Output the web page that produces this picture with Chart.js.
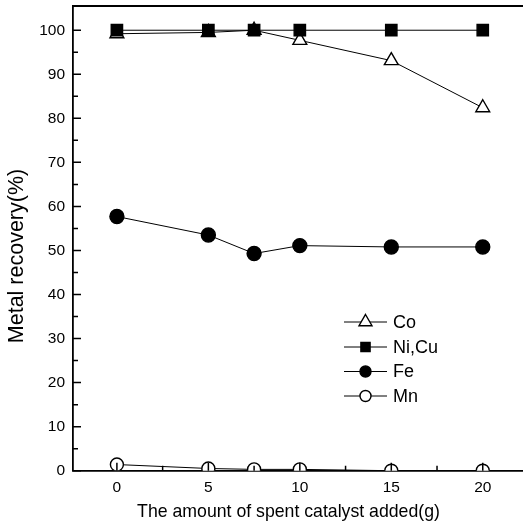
<!DOCTYPE html>
<html>
<head>
<meta charset="utf-8">
<script src="https://cdn.jsdelivr.net/npm/chart.js@4/dist/chart.umd.min.js"></script>
<style>
html,body{margin:0;padding:0;background:#fff;}
#wrap{width:523px;height:531px;position:relative;}
</style>
</head>
<body>
<div id="wrap"><canvas id="c" width="523" height="531"></canvas></div>
<script>
const amounts = [0, 5, 7.5, 10, 15, 20];
const coValues = [99.2, 99.5, 100, 97.7, 93.1, 82.4];
const niCuValues = [100, 100, 100, 100, 100, 100];
const feValues = [57.7, 53.5, 49.3, 51.1, 50.8, 50.8];
const mnValues = [1.4, 0.5, 0.3, 0.3, 0, 0];
const xMajorTicks = [0, 5, 10, 15, 20];
const xMinorTicks = [2.5, 7.5, 12.5, 17.5];
const yMajorTicks = [0, 10, 20, 30, 40, 50, 60, 70, 80, 90, 100];
const yMinorTicks = [5, 15, 25, 35, 45, 55, 65, 75, 85, 95];
const seriesNames = ['Co', 'Ni,Cu', 'Fe', 'Mn'];
const xTitle = 'The amount of spent catalyst added(g)';
const yTitle = 'Metal recovery(%)';

const FONT = '"Liberation Sans", Arial, Helvetica, sans-serif';

function pts(vals){ return amounts.map((x,i)=>({x:x,y:vals[i]})); }

const datasets = [
  {label: seriesNames[0], data: pts(coValues), pointStyle:'triangle', pointRadius:8, backgroundColor:'#fff', order:1, legendRadius:7.5},
  {label: seriesNames[1], data: pts(niCuValues), pointStyle:'rect', pointRadius:8, backgroundColor:'#000', order:0, legendRadius:6.5},
  {label: seriesNames[2], data: pts(feValues), pointStyle:'circle', pointRadius:7, backgroundColor:'#000', order:2, legendRadius:5.5},
  {label: seriesNames[3], data: pts(mnValues), pointStyle:'circle', pointRadius:6.5, backgroundColor:'#fff', order:3, legendRadius:5.5, clip:{left:false, top:false, right:false, bottom:0}}
].map(d=>Object.assign({borderWidth:1, borderColor:'#000', pointBorderWidth:1.4, pointBackgroundColor:d.backgroundColor, pointBorderColor:'#000', tension:0, fill:false}, d));

const frame = {
  id:'frame',
  afterDraw(chart){
    const ctx = chart.ctx, a = chart.chartArea;
    const xs = chart.scales.x, ys = chart.scales.y;
    ctx.save();
    ctx.strokeStyle = '#000';
    ctx.lineWidth = 1.8;
    ctx.beginPath();
    ctx.moveTo(a.left, a.top); ctx.lineTo(a.right, a.top);
    ctx.stroke();
    ctx.lineWidth = 1.5;
    ctx.beginPath();
    yMajorTicks.forEach(v=>{ const p = ys.getPixelForValue(v); ctx.moveTo(a.left, p); ctx.lineTo(a.left+8, p); });
    yMinorTicks.forEach(v=>{ const p = ys.getPixelForValue(v); ctx.moveTo(a.left, p); ctx.lineTo(a.left+5, p); });
    xMajorTicks.forEach(v=>{ const p = xs.getPixelForValue(v); ctx.moveTo(p, a.bottom); ctx.lineTo(p, a.bottom-8); });
    xMinorTicks.forEach(v=>{ const p = xs.getPixelForValue(v); ctx.moveTo(p, a.bottom); ctx.lineTo(p, a.bottom-5); });
    ctx.stroke();

    ctx.fillStyle = '#000';
    // y axis title
    ctx.save();
    ctx.translate(23, 256);
    ctx.rotate(-Math.PI/2);
    ctx.font = '21.5px ' + FONT;
    ctx.textAlign = 'center';
    ctx.textBaseline = 'alphabetic';
    ctx.fillText(yTitle, 0, 0);
    ctx.restore();

    // x axis title
    ctx.font = '17.7px ' + FONT;
    ctx.textAlign = 'center';
    ctx.textBaseline = 'alphabetic';
    ctx.fillText(xTitle, 288.5, 517);

    // legend
    const lx0 = 344, lx1 = 387, tx = 393;
    const rows = [322, 347, 371.5, 396];
    ctx.font = '18px ' + FONT;
    ctx.textBaseline = 'middle';
    ctx.textAlign = 'left';
    chart.data.datasets.forEach((d,i)=>{
      const y = rows[i];
      ctx.lineWidth = 1;
      ctx.strokeStyle = '#000';
      ctx.beginPath(); ctx.moveTo(lx0, y); ctx.lineTo(lx1, y); ctx.stroke();
      ctx.fillStyle = d.backgroundColor;
      ctx.lineWidth = 1.4;
      Chart.helpers.drawPoint(ctx, {pointStyle:d.pointStyle, radius:d.legendRadius, borderWidth:1.4, rotation:0}, (lx0+lx1)/2, y);
      ctx.fillStyle = '#000';
      ctx.fillText(d.label, tx, y+1);
    });
    ctx.restore();
  }
};

new Chart(document.getElementById('c'), {
  type:'line',
  data:{datasets},
  plugins:[frame],
  options:{
    responsive:false,
    animation:false,
    events:[],
    layout:{autoPadding:false, padding:{left:0,right:0,top:6,bottom:0}},
    plugins:{legend:{display:false}, tooltip:{enabled:false}},
    scales:{
      x:{
        type:'linear', min:-2.4, max:22.2,
        grid:{display:false, drawTicks:false},
        border:{display:true, color:'#000', width:1.8},
        afterBuildTicks(s){ s.ticks = xMajorTicks.map(v=>({value:v})); },
        afterFit(s){ s.height = 60.3; s.paddingLeft = 0; s.paddingRight = 0; },
        ticks:{color:'#000', font:{family:FONT, size:15.5}, padding:8, maxRotation:0},
        title:{display:false}
      },
      y:{
        type:'linear', min:0, max:105.5,
        grid:{display:false, drawTicks:false},
        border:{display:true, color:'#000', width:1.8},
        afterBuildTicks(s){ s.ticks = yMajorTicks.map(v=>({value:v})); },
        afterFit(s){ s.width = 73; s.paddingTop = 0; s.paddingBottom = 0; },
        ticks:{color:'#000', font:{family:FONT, size:15.5}, padding:8},
        title:{display:false}
      }
    }
  }
});
</script>
</body>
</html>
